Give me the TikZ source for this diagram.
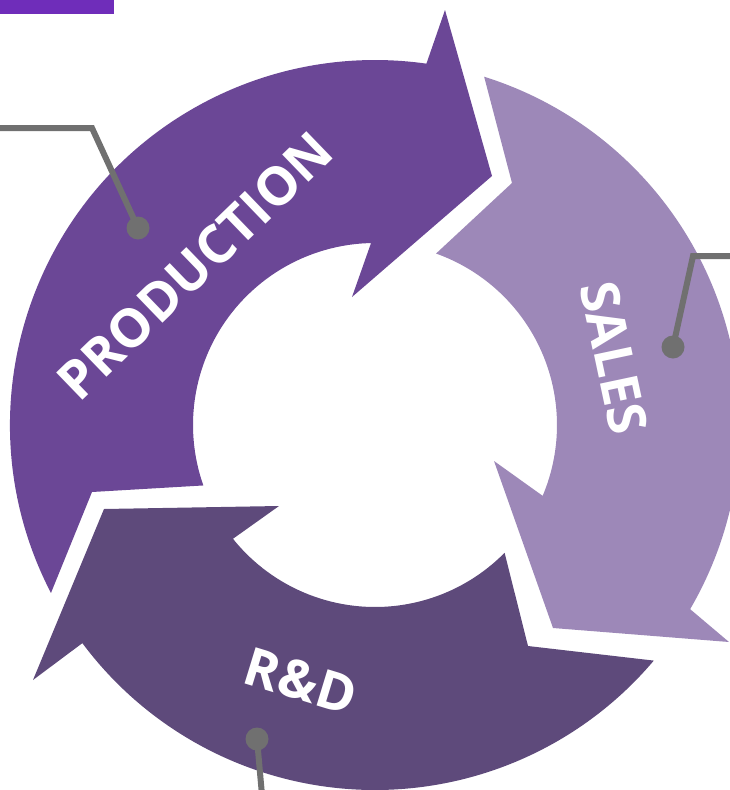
\documentclass[tikz,border=0pt]{standalone}
\usepackage{fontspec}
\setmainfont{Open Sans}
\definecolor{prodc}{HTML}{6B4796}
\definecolor{salesc}{HTML}{9D88B8}
\definecolor{rdc}{HTML}{5E4A7B}
\definecolor{connc}{HTML}{707070}
\definecolor{barc}{HTML}{6F2DBA}
\begin{document}
\begin{tikzpicture}[x=1pt,y=1pt,
  lbl/.style={text=white, font=\fontsize{53}{53}\selectfont\bfseries, inner sep=0pt},
  conn/.style={draw=connc, line width=6pt, line join=miter},
  dot/.style={circle, fill=connc, minimum size=23pt, inner sep=0pt}]
\useasboundingbox (0,0) rectangle (730,-790);
\clip (0,0) rectangle (730,-790);
\fill[barc] (0,0) rectangle (114,-14);
\begin{scope}[shift={(375,-425)}]
% PRODUCTION arrow
\fill[prodc] (207.4:365) arc[start angle=207.4, end angle=81.9, radius=365]
  -- (70,415) -- (117,249) -- (-23,128) -- (91.25:182)
  arc[start angle=91.25, end angle=199.4, radius=182]
  -- (-283,-67) -- cycle;
% SALES arrow
\fill[salesc] (72.6:365) arc[start angle=72.6, end angle=-30.3, radius=365]
  -- (354,-217) -- (178,-203) -- (119,-36) -- (-22.9:182)
  arc[start angle=-22.9, end angle=70.4, radius=182]
  -- (137,242) -- cycle;
% R&D arrow
\fill[rdc] (-40.2:365) arc[start angle=-40.2, end angle=-143.3, radius=365]
  -- (-342,-255) -- (-271,-84) -- (-96,-81) -- (-141.3:182)
  arc[start angle=-141.3, end angle=-44.6, radius=182]
  -- (153,-221) -- cycle;
\end{scope}
% labels
\node[lbl, rotate=44] (tprod) at (195,-266) {PRODUCTION};
\node[lbl, rotate=-78] (tsales) at (614,-358) {SALES};
\node[lbl, rotate=-17] (trd) at (301,-681) {R\&D};
% connectors
\coordinate (c1s) at (-5,-128);
\coordinate (c1c) at (92,-128);
\node[dot] (d1) at (138,-228) {};
\draw[conn] (c1s) -- (c1c) -- (d1.center);
\coordinate (c2s) at (735,-256);
\coordinate (c2c) at (693,-256);
\node[dot] (d2) at (673,-347) {};
\draw[conn] (c2s) -- (c2c) -- (d2.center);
\coordinate (c3e) at (262,-795);
\node[dot] (d3) at (257,-739) {};
\draw[conn] (d3.center) -- (c3e);
\end{tikzpicture}
\end{document}
